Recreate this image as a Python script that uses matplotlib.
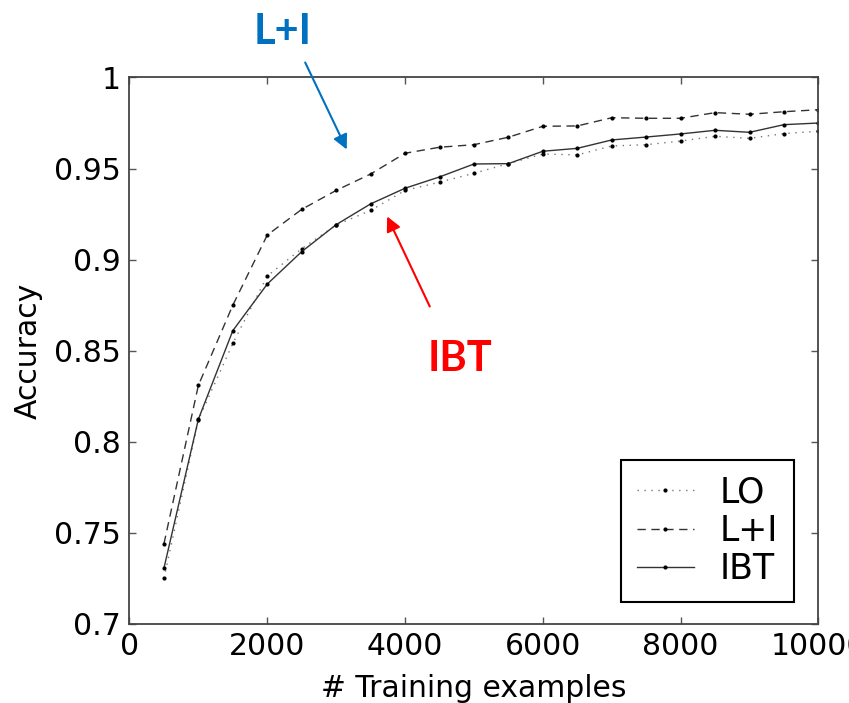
import matplotlib
matplotlib.use("Agg")
import matplotlib.pyplot as plt

x_examples = [500, 1000, 1500, 2000, 2500, 3000, 3500, 4000, 4500, 5000,
              5500, 6000, 6500, 7000, 7500, 8000, 8500, 9000, 9500, 10000]
acc_lo = [0.725, 0.812, 0.854, 0.891, 0.906, 0.919, 0.927, 0.938, 0.9425, 0.9474,
          0.9527, 0.958, 0.9575, 0.9624, 0.9631, 0.9651, 0.9677, 0.9666, 0.9692, 0.9705]
acc_li = [0.744, 0.831, 0.875, 0.9135, 0.9276, 0.938, 0.947, 0.9584, 0.9617, 0.9631,
          0.9672, 0.9732, 0.9734, 0.9779, 0.9776, 0.9776, 0.9807, 0.9798, 0.9812, 0.9823]
acc_ibt = [0.7306, 0.8124, 0.861, 0.8866, 0.9044, 0.9192, 0.9306, 0.9392, 0.9454, 0.9525,
           0.9527, 0.9595, 0.9611, 0.9657, 0.9673, 0.969, 0.971, 0.9699, 0.9741, 0.975]
series_labels = ["LO", "L+I", "IBT"]
x_ticks = [0, 2000, 4000, 6000, 8000, 10000]
y_ticks = [0.7, 0.75, 0.8, 0.85, 0.9, 0.95, 1.0]
y_ticklabels = ["0.7", "0.75", "0.8", "0.85", "0.9", "0.95", "1"]

plt.rcParams['font.family'] = ['DejaVu Sans']

fig = plt.figure(figsize=(8.49, 7.03), dpi=100)
ax = fig.add_axes([0.1525, 0.1124, 0.8115, 0.7774])

ax.plot(x_examples, acc_lo, color='#777777', lw=1.0, linestyle=(0, (1, 4)),
        marker='.', markersize=4, markerfacecolor='black', markeredgecolor='black',
        label=series_labels[0])
ax.plot(x_examples, acc_li, color='#333333', lw=1.0, linestyle=(0, (6, 4)),
        marker='.', markersize=4, markerfacecolor='black', markeredgecolor='black',
        label=series_labels[1])
ax.plot(x_examples, acc_ibt, color='#333333', lw=1.0, linestyle='-',
        marker='.', markersize=4, markerfacecolor='black', markeredgecolor='black',
        label=series_labels[2])

ax.set_xlim(0, 10000)
ax.set_ylim(0.7, 1.0)
ax.set_xticks(x_ticks)
ax.set_xticklabels([str(v) for v in x_ticks])
ax.set_yticks(y_ticks)
ax.set_yticklabels(y_ticklabels)
ax.tick_params(axis='both', direction='in', top=True, right=True, length=5,
               width=1, color='#555555', labelsize=21.5, pad=6)
for s in ax.spines.values():
    s.set_color('#444444')
    s.set_linewidth(1.3)

ax.set_xlabel("# Training examples", fontsize=21.5, labelpad=9)
ax.set_ylabel("Accuracy", fontsize=21.5, labelpad=8)

leg = ax.legend(loc='lower right', bbox_to_anchor=(0.9645, 0.041), fontsize=25,
                fancybox=False, edgecolor='black', framealpha=1, numpoints=1,
                handlelength=1.65, handletextpad=0.75, borderpad=0.45, labelspacing=0.12,
                borderaxespad=0)
leg.get_frame().set_linewidth(1.5)

# Annotations
ax.annotate('', xy=(3171, 0.9591), xytext=(2533, 1.0096), xycoords='data',
            annotation_clip=False,
            arrowprops=dict(arrowstyle='-|>', color='#0070C0', lw=1.5, mutation_scale=22))
ax.text(2228, 1.025, "L+I", color='#0070C0', fontsize=30, fontweight='bold',
        family=['Lato', 'DejaVu Sans'], ha='center', va='center', clip_on=False)
ax.annotate('', xy=(3723, 0.9251), xytext=(4376, 0.8729), xycoords='data',
            annotation_clip=False,
            arrowprops=dict(arrowstyle='-|>', color='#FF0000', lw=1.5, mutation_scale=22))
ax.text(4797, 0.8455, "IBT", color='#FF0000', fontsize=30, fontweight='bold',
        family=['Lato', 'DejaVu Sans'], ha='center', va='center')

fig.savefig("out.png", dpi=100)
